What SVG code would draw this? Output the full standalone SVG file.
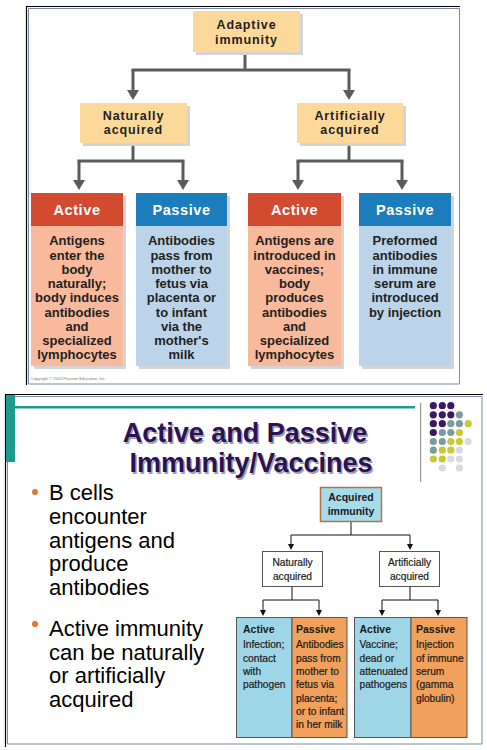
<svg xmlns="http://www.w3.org/2000/svg" width="487" height="750" viewBox="0 0 487 750">
<defs>
<style>
.hb{font-family:"Liberation Sans",Arial,sans-serif;font-weight:bold;text-anchor:middle}
.yl{fill:#fcd99b}
.sh{fill:#d4d4d4}
.ah{fill:#d24a2f}
.ab{fill:#f9b99c}
.ph{fill:#1b7dbb}
.pb{fill:#bcd4ea}
.hd{font-size:14.5px;fill:#ffffff;letter-spacing:0.6px}
.yt{font-size:12.5px;fill:#231f20;letter-spacing:0.9px}
.bt{font-size:13px;fill:#231f20}
.con{stroke:#5b5b5d;stroke-width:3;fill:none}
.con2{stroke:#111111;stroke-width:1;fill:none}
.sm{font-family:"Liberation Sans",Arial,sans-serif;fill:#1a1a1a}
.sb{font-size:10.5px;font-weight:bold}
.sr{font-size:10.2px;stroke:#1a1a1a;stroke-width:0.2px}
.bul{font-family:"Liberation Sans",Arial,sans-serif;font-size:22px;fill:#000000}
.ttl{font-family:"Liberation Sans",Arial,sans-serif;font-weight:bold;font-size:27px;text-anchor:middle}
.dp{fill:#3b1860}.dg{fill:#7c9b9c}.dy{fill:#c9c936}.dl{fill:#d9d9e6}
</style>
<marker id="ar" markerUnits="userSpaceOnUse" markerWidth="12" markerHeight="12" viewBox="0 0 10 12" refX="1" refY="6" orient="auto">
<path d="M0,0 L10,6 L0,12 z" fill="#5b5b5d"/>
</marker>
<marker id="ar2" markerUnits="userSpaceOnUse" markerWidth="6" markerHeight="6" viewBox="0 0 6 6" refX="1" refY="3" orient="auto">
<path d="M0,0 L6,3 L0,6 z" fill="#111111"/>
</marker>
</defs>
<rect width="487" height="750" fill="#ffffff"/>

<!-- top panel frame -->
<g id="top-frame">
<path d="M26.5,385 V6.5 H460" stroke="#000" stroke-width="1.2" fill="none"/>
<path d="M28.5,384 V8.5 H459.5 V384 H28.5" stroke="#7a8aa8" stroke-width="1" fill="none"/>
<text x="31" y="380" font-family="Liberation Sans,Arial,sans-serif" font-size="4" fill="#777">Copyright © 2010 Pearson Education, Inc.</text>
</g>

<g id="top-connectors">
<path class="con" d="M245,52 V70 M131.5,70 H350.5"/>
<path class="con" d="M133,70 V91" marker-end="url(#ar)"/>
<path class="con" d="M349,70 V91" marker-end="url(#ar)"/>
<path class="con" d="M133,143 V161 M77.5,161 H184.5"/>
<path class="con" d="M79,161 V181" marker-end="url(#ar)"/>
<path class="con" d="M183,161 V181" marker-end="url(#ar)"/>
<path class="con" d="M349,143 V161 M296.5,161 H403.5"/>
<path class="con" d="M298,161 V181" marker-end="url(#ar)"/>
<path class="con" d="M402,161 V181" marker-end="url(#ar)"/>
</g>

<g id="adaptive">
<rect class="sh" x="196" y="14" width="107" height="41"/>
<rect class="yl" x="193" y="11" width="107" height="41"/>
<text class="hb yt" x="246.5" y="29">Adaptive</text>
<text class="hb yt" x="246.5" y="43.5">immunity</text>
</g>
<g id="naturally">
<rect class="sh" x="83" y="106" width="107" height="40"/>
<rect class="yl" x="80" y="103" width="107" height="40"/>
<text class="hb yt" x="133.5" y="119.5">Naturally</text>
<text class="hb yt" x="133.5" y="134">acquired</text>
</g>
<g id="artificially">
<rect class="sh" x="300" y="106" width="106" height="40"/>
<rect class="yl" x="297" y="103" width="106" height="40"/>
<text class="hb yt" x="350" y="119.5">Artificially</text>
<text class="hb yt" x="350" y="134">acquired</text>
</g>

<g id="nat-active">
<rect class="sh" x="34" y="196" width="92" height="173"/>
<rect class="ah" x="31" y="193" width="92" height="33"/>
<rect class="ab" x="31" y="226" width="92" height="140"/>
<text class="hb hd" x="77" y="215">Active</text>
<text class="hb bt" x="77" y="245.3">Antigens</text>
<text class="hb bt" x="77" y="259.5">enter the</text>
<text class="hb bt" x="77" y="273.8">body</text>
<text class="hb bt" x="77" y="288">naturally;</text>
<text class="hb bt" x="77" y="302.3">body induces</text>
<text class="hb bt" x="77" y="316.5">antibodies</text>
<text class="hb bt" x="77" y="330.8">and</text>
<text class="hb bt" x="77" y="345">specialized</text>
<text class="hb bt" x="77" y="359.3">lymphocytes</text>
</g>
<g id="nat-passive">
<rect class="sh" x="139" y="196" width="91" height="173"/>
<rect class="ph" x="136" y="193" width="91" height="33"/>
<rect class="pb" x="136" y="226" width="91" height="140"/>
<text class="hb hd" x="181.5" y="215">Passive</text>
<text class="hb bt" x="181.5" y="245.3">Antibodies</text>
<text class="hb bt" x="181.5" y="259.5">pass from</text>
<text class="hb bt" x="181.5" y="273.8">mother to</text>
<text class="hb bt" x="181.5" y="288">fetus via</text>
<text class="hb bt" x="181.5" y="302.3">placenta or</text>
<text class="hb bt" x="181.5" y="316.5">to infant</text>
<text class="hb bt" x="181.5" y="330.8">via the</text>
<text class="hb bt" x="181.5" y="345">mother's</text>
<text class="hb bt" x="181.5" y="359.3">milk</text>
</g>
<g id="art-active">
<rect class="sh" x="251" y="196" width="93" height="173"/>
<rect class="ah" x="248" y="193" width="93" height="33"/>
<rect class="ab" x="248" y="226" width="93" height="140"/>
<text class="hb hd" x="294.5" y="215">Active</text>
<text class="hb bt" x="294.5" y="245.3">Antigens are</text>
<text class="hb bt" x="294.5" y="259.5">introduced in</text>
<text class="hb bt" x="294.5" y="273.8">vaccines;</text>
<text class="hb bt" x="294.5" y="288">body</text>
<text class="hb bt" x="294.5" y="302.3">produces</text>
<text class="hb bt" x="294.5" y="316.5">antibodies</text>
<text class="hb bt" x="294.5" y="330.8">and</text>
<text class="hb bt" x="294.5" y="345">specialized</text>
<text class="hb bt" x="294.5" y="359.3">lymphocytes</text>
</g>
<g id="art-passive">
<rect class="sh" x="362" y="196" width="92" height="173"/>
<rect class="ph" x="359" y="193" width="92" height="33"/>
<rect class="pb" x="359" y="226" width="92" height="140"/>
<text class="hb hd" x="405" y="215">Passive</text>
<text class="hb bt" x="405" y="245.3">Preformed</text>
<text class="hb bt" x="405" y="259.5">antibodies</text>
<text class="hb bt" x="405" y="273.8">in immune</text>
<text class="hb bt" x="405" y="288">serum are</text>
<text class="hb bt" x="405" y="302.3">introduced</text>
<text class="hb bt" x="405" y="316.5">by injection</text>
</g>

<!-- bottom slide -->
<g id="slide-frame">
<path d="M5.5,747 V394.5 H483" stroke="#000" stroke-width="1.2" fill="none"/>
<path d="M7.5,744 V396.5 H482 V744 H7.5" stroke="#7a8aa8" stroke-width="1" fill="none"/>
<rect x="6" y="395" width="9" height="67" fill="#1e9a8e"/>
<rect x="15" y="406" width="400" height="2.5" fill="#1e9a8e"/>
<rect x="420" y="403" width="1.2" height="79" fill="#9a9a9a"/>
</g>
<g id="dots">
<circle class="dp" cx="433.3" cy="405.7" r="3.6"/><circle class="dp" cx="442.3" cy="405.7" r="3.6"/><circle class="dp" cx="450.8" cy="405.7" r="3.6"/>
<circle class="dp" cx="433.3" cy="414.8" r="3.6"/><circle class="dp" cx="442.3" cy="414.8" r="3.6"/><circle class="dp" cx="450.8" cy="414.8" r="3.6"/><circle class="dg" cx="459.4" cy="414.8" r="3.6"/>
<circle class="dp" cx="433.3" cy="423.7" r="3.6"/><circle class="dp" cx="442.3" cy="423.7" r="3.6"/><circle class="dg" cx="450.8" cy="423.7" r="3.6"/><circle class="dg" cx="459.4" cy="423.7" r="3.6"/><circle class="dy" cx="468.2" cy="423.7" r="3.6"/>
<circle class="dp" cx="433.3" cy="432.5" r="3.6"/><circle class="dg" cx="442.3" cy="432.5" r="3.6"/><circle class="dg" cx="450.8" cy="432.5" r="3.6"/><circle class="dy" cx="459.4" cy="432.5" r="3.6"/>
<circle class="dg" cx="433.3" cy="441.5" r="3.6"/><circle class="dg" cx="442.3" cy="441.5" r="3.6"/><circle class="dy" cx="450.8" cy="441.5" r="3.6"/><circle class="dy" cx="459.4" cy="441.5" r="3.6"/><circle class="dl" cx="468.2" cy="441.5" r="3.6"/>
<circle class="dg" cx="433.3" cy="450.2" r="3.6"/><circle class="dy" cx="442.3" cy="450.2" r="3.6"/><circle class="dy" cx="450.8" cy="450.2" r="3.6"/><circle class="dl" cx="459.4" cy="450.2" r="3.6"/>
<circle class="dy" cx="433.3" cy="459" r="3.6"/><circle class="dy" cx="442.3" cy="459" r="3.6"/><circle class="dl" cx="450.8" cy="459" r="3.6"/><circle class="dl" cx="459.4" cy="459" r="3.6"/>
<circle class="dl" cx="442.3" cy="468" r="3.6"/><circle class="dl" cx="459.4" cy="468" r="3.6"/>
</g>
<g id="title">
<text class="ttl" x="246.5" y="443.5" fill="#a0a0b0">Active and Passive</text>
<text class="ttl" x="252.5" y="473.5" fill="#a0a0b0">Immunity/Vaccines</text>
<text class="ttl" x="245" y="442" fill="#2d1155">Active and Passive</text>
<text class="ttl" x="251" y="472" fill="#2d1155">Immunity/Vaccines</text>
</g>
<g id="bullets">
<circle cx="35" cy="492" r="3" fill="#e8742e"/>
<text class="bul" x="49" y="500">B cells</text>
<text class="bul" x="49" y="524">encounter</text>
<text class="bul" x="49" y="547.5">antigens and</text>
<text class="bul" x="49" y="571">produce</text>
<text class="bul" x="49" y="594.5">antibodies</text>
<circle cx="35" cy="624" r="3" fill="#e8742e"/>
<text class="bul" x="49" y="636">Active immunity</text>
<text class="bul" x="49" y="659.5">can be naturally</text>
<text class="bul" x="49" y="683">or artificially</text>
<text class="bul" x="49" y="706.5">acquired</text>
</g>

<g id="small-connectors">
<path class="con2" d="M351,522 V535 M291,535 H410"/>
<path class="con2" d="M291,535 V545" marker-end="url(#ar2)"/>
<path class="con2" d="M410,535 V545" marker-end="url(#ar2)"/>
<path class="con2" d="M292,587 V600 M263,600 H319"/>
<path class="con2" d="M263,600 V611" marker-end="url(#ar2)"/>
<path class="con2" d="M319,600 V611" marker-end="url(#ar2)"/>
<path class="con2" d="M410,587 V600 M382,600 H438"/>
<path class="con2" d="M382,600 V611" marker-end="url(#ar2)"/>
<path class="con2" d="M438,600 V611" marker-end="url(#ar2)"/>
</g>
<g id="acquired">
<rect x="320.5" y="487.5" width="61" height="34" fill="#a6dbe9" stroke="#b57444" stroke-width="1.5"/>
<text class="sm sb" x="351" y="501" text-anchor="middle" font-size="10">Acquired</text>
<text class="sm sb" x="351" y="514.5" text-anchor="middle" font-size="10">immunity</text>
</g>
<g id="s-naturally">
<rect x="262.5" y="551.5" width="60" height="35" fill="#ffffff" stroke="#555" stroke-width="1"/>
<text class="sm sr" x="292.5" y="566" text-anchor="middle">Naturally</text>
<text class="sm sr" x="292.5" y="579.5" text-anchor="middle">acquired</text>
</g>
<g id="s-artificially">
<rect x="379.5" y="551.5" width="60" height="35" fill="#ffffff" stroke="#555" stroke-width="1"/>
<text class="sm sr" x="409.5" y="566" text-anchor="middle">Artificially</text>
<text class="sm sr" x="409.5" y="579.5" text-anchor="middle">acquired</text>
</g>
<g id="s-nat-active">
<rect x="236.5" y="617.5" width="55.5" height="120" fill="#9fd6e7" stroke="#555" stroke-width="1"/>
<text class="sm sb" x="243" y="632.5">Active</text>
<text class="sm sr" x="243" y="648">Infection;</text>
<text class="sm sr" x="243" y="661.5">contact</text>
<text class="sm sr" x="243" y="675">with</text>
<text class="sm sr" x="243" y="688.3">pathogen</text>
</g>
<g id="s-nat-passive">
<rect x="292" y="617.5" width="55" height="120" fill="#f1a15c" stroke="#555" stroke-width="1"/>
<text class="sm sb" x="296" y="632.5">Passive</text>
<text class="sm sr" x="296" y="648">Antibodies</text>
<text class="sm sr" x="296" y="661.5">pass from</text>
<text class="sm sr" x="296" y="675">mother to</text>
<text class="sm sr" x="296" y="688.3">fetus via</text>
<text class="sm sr" x="296" y="701.7">placenta;</text>
<text class="sm sr" x="296" y="715">or to infant</text>
<text class="sm sr" x="296" y="728.3">in her milk</text>
</g>
<g id="s-art-active">
<rect x="354.5" y="617.5" width="56.5" height="120" fill="#9fd6e7" stroke="#555" stroke-width="1"/>
<text class="sm sb" x="359.5" y="632.5">Active</text>
<text class="sm sr" x="359.5" y="648">Vaccine;</text>
<text class="sm sr" x="359.5" y="661.5">dead or</text>
<text class="sm sr" x="359.5" y="675">attenuated</text>
<text class="sm sr" x="359.5" y="688.3">pathogens</text>
</g>
<g id="s-art-passive">
<rect x="411" y="617.5" width="56" height="120" fill="#f1a15c" stroke="#555" stroke-width="1"/>
<text class="sm sb" x="416" y="632.5">Passive</text>
<text class="sm sr" x="416" y="648">Injection</text>
<text class="sm sr" x="416" y="661.5">of immune</text>
<text class="sm sr" x="416" y="675">serum</text>
<text class="sm sr" x="416" y="688.3">(gamma</text>
<text class="sm sr" x="416" y="701.7">globulin)</text>
</g>
</svg>
